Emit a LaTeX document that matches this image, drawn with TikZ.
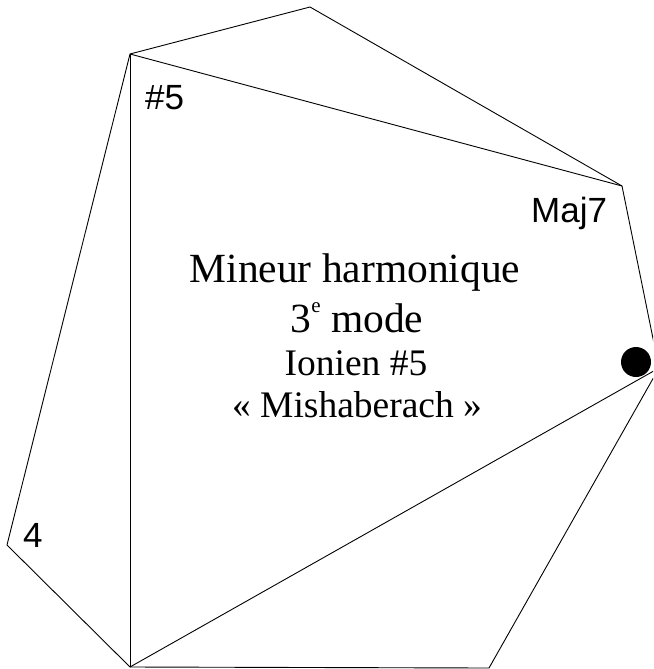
\documentclass[tikz,border=0pt]{standalone}
\usepackage{fontspec}
\setmainfont{Liberation Serif}
\newfontfamily\labelfont{Liberation Sans}
\newcommand{\supe}{\raisebox{20pt}{\fontsize{21}{21}\selectfont e}}
\begin{document}
\begin{tikzpicture}[x=1pt,y=-1pt,
  edge/.style={draw=black,line width=0.9pt,line join=miter},
  vlabel/.style={font=\labelfont\fontsize{35}{40}\selectfont,anchor=base west,inner sep=0pt},
  bigtext/.style={font=\fontsize{41.5}{48}\selectfont,anchor=base,inner sep=0pt},
  smalltext/.style={font=\fontsize{37.5}{44}\selectfont,anchor=base,inner sep=0pt}]
\useasboundingbox (0,0) rectangle (653,669);
\clip (0,0) rectangle (653,669);
\coordinate (T) at (310,7);
\coordinate (UL) at (130,54);
\coordinate (RU) at (622,186);
\coordinate (R) at (659,368);
\coordinate (BR) at (489,668);
\coordinate (BL) at (130,667);
\coordinate (L) at (7,545);
\draw[edge] (T) -- (UL) -- (L) -- (BL) -- (BR) -- (R) -- (RU) -- cycle;
\draw[edge] (UL) -- (RU);
\draw[edge] (UL) -- (BL);
\draw[edge] (BL) -- (R);
\fill[black] (636,362) circle (15);
\node[vlabel] (l5) at (145,109) {\#5};
\node[vlabel] (lmaj) at (531,222) {Maj7};
\node[vlabel] (l4) at (23,547) {4};
\node[bigtext] (t1) at (355,282) {Mineur harmonique};
\node[bigtext] (t2) at (357,332) {3\supe\ mode};
\node[smalltext] (t3) at (356,375) {Ionien \#5};
\node[smalltext] (t4) at (357,417) {« Mishaberach »};
\end{tikzpicture}
\end{document}
